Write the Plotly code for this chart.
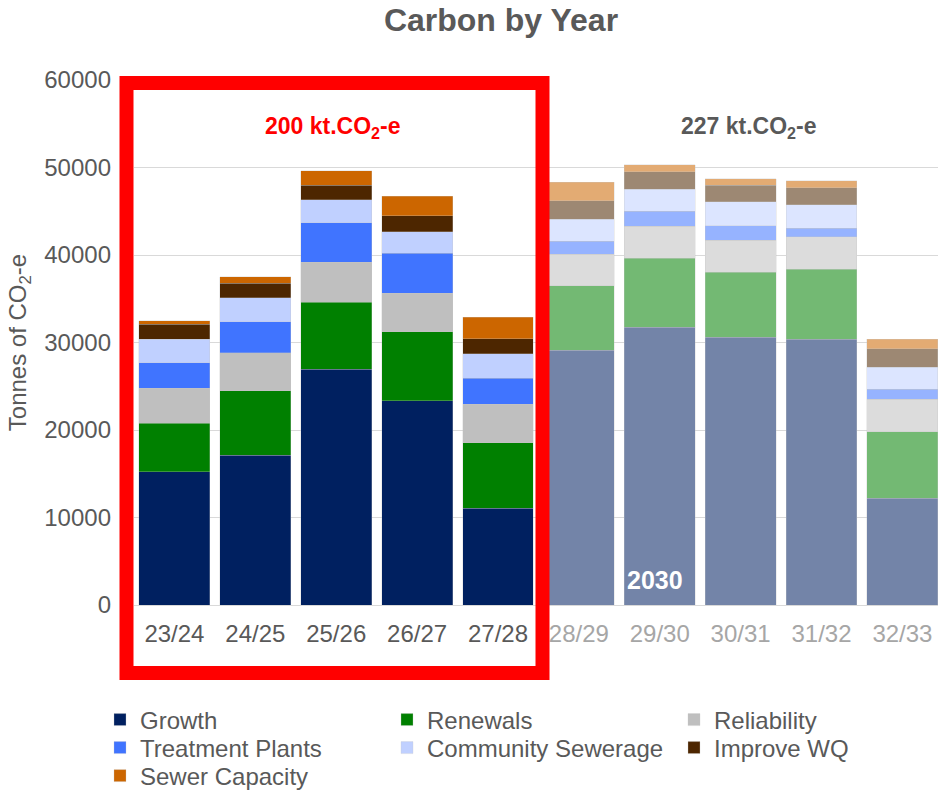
import plotly.graph_objects as go

years = ["23/24", "24/25", "25/26", "26/27", "27/28", "28/29", "29/30", "30/31", "31/32", "32/33"]
growth = [15230, 17140, 26930, 23350, 11050, 29140, 31730, 30590, 30400, 12190]
renewals = [5530, 7320, 7670, 7890, 7500, 7320, 7890, 7430, 7960, 7610]
reliability = [4000, 4370, 4570, 4380, 4420, 3650, 3690, 3690, 3700, 3700]
treatment = [2940, 3550, 4530, 4570, 2930, 1490, 1690, 1640, 990, 1150]
community = [2660, 2740, 2590, 2480, 2790, 2510, 2500, 2750, 2700, 2510]
improve_wq = [1750, 1640, 1710, 1830, 1740, 2090, 1990, 1900, 1950, 2100]
sewer_capacity = [400, 760, 1640, 2240, 2450, 2090, 800, 690, 800, 1140]

series = [
    ("Growth", growth, "#002060"),
    ("Renewals", renewals, "#008000"),
    ("Reliability", reliability, "#BFBFBF"),
    ("Treatment Plants", treatment, "#4074FF"),
    ("Community Sewerage", community, "#C0D0FF"),
    ("Improve WQ", improve_wq, "#4D2600"),
    ("Sewer Capacity", sewer_capacity, "#CC6600"),
]

n_current = 5  # first five years highlighted


def fade(hex_color, a=0.55):
    h = hex_color.lstrip("#")
    r, g, b = int(h[0:2], 16), int(h[2:4], 16), int(h[4:6], 16)
    f = lambda c: round(255 - (255 - c) * a)
    return "#%02X%02X%02X" % (f(r), f(g), f(b))


W, H = 938, 795
L, R, T, B = 134, 0, 80, 190
pw, ph = W - L - R, H - T - B

# legend grid: 3 columns, rows filled left to right
leg_cols_px = [100, 387, 674]
leg_rows_px = [720, 748, 776]

fig = go.Figure()
layout_legends = {}
for k, (name, vals, col) in enumerate(series):
    colors = [col if i < n_current else fade(col) for i in range(len(years))]
    leg_id = "legend" if k == 0 else f"legend{k + 1}"
    fig.add_trace(go.Bar(
        name=name, x=years, y=vals, legend=leg_id,
        marker=dict(color=colors, line=dict(color="rgba(200,200,200,0.5)", width=0.6)),
    ))
    layout_legends[leg_id] = dict(
        orientation="h", xref="container", yref="container",
        x=leg_cols_px[k % 3] / W, y=(H - leg_rows_px[k // 3]) / H,
        xanchor="left", yanchor="middle",
        font=dict(size=24, color="#595959"),
        itemwidth=30, bgcolor="rgba(0,0,0,0)",
    )


def px(x):
    return (x - L) / pw


def py(y):
    return (H - B - y) / ph


tick_colors = ["#595959"] * n_current + ["#A6A6A6"] * (len(years) - n_current)
ticktext = [f"<span style='color:{c}'>{t}</span>" for t, c in zip(years, tick_colors)]

fig.update_layout(
    width=W, height=H,
    margin=dict(l=L, r=R, t=T, b=B, autoexpand=False),
    barmode="stack",
    bargap=0.123,
    plot_bgcolor="white",
    paper_bgcolor="white",
    font=dict(family="Liberation Sans, Arial, sans-serif", color="#595959", size=24),
    title=dict(text="<b>Carbon by Year</b>", font=dict(size=32, color="#595959"),
               x=501 / W, xanchor="center", y=1 - 20 / H, yanchor="middle"),
    xaxis=dict(
        tickmode="array", tickvals=years, ticktext=ticktext,
        range=[-0.5, 9.44], showgrid=False, showline=False, ticks="",
        tickfont=dict(size=24), ticklabelstandoff=12,
    ),
    yaxis=dict(
        range=[0, 60000], tickvals=[0, 10000, 20000, 30000, 40000, 50000, 60000],
        tickformat="d", showgrid=True, gridcolor="#D9D9D9", gridwidth=1,
        zeroline=True, zerolinecolor="#D9D9D9", zerolinewidth=1,
        tickfont=dict(size=24, color="#595959"), ticklabelstandoff=22,
        title=dict(text="Tonnes of CO<sub>2</sub>-e", font=dict(size=24, color="#595959"), standoff=10),
    ),
    showlegend=True,
    **layout_legends,
)

fig.add_shape(type="rect", xref="paper", yref="paper",
              x0=px(126.5), x1=px(542.5), y0=py(673), y1=py(83),
              line=dict(color="#FF0000", width=14), layer="above")

fig.add_annotation(text="<b>200 kt.CO<sub>2</sub>-e</b>", xref="paper", yref="paper",
                   x=px(333), y=py(127), xanchor="center", yanchor="middle", showarrow=False,
                   font=dict(size=23, color="#FF0000"))
fig.add_annotation(text="<b>227 kt.CO<sub>2</sub>-e</b>", xref="paper", yref="paper",
                   x=px(749), y=py(127), xanchor="center", yanchor="middle", showarrow=False,
                   font=dict(size=23, color="#595959"))
fig.add_annotation(text="<b>2030</b>", xref="x", yref="y",
                   x="29/30", y=2900, showarrow=False, xshift=-5,
                   font=dict(size=25, color="white"))

fig.write_html("out.html")
